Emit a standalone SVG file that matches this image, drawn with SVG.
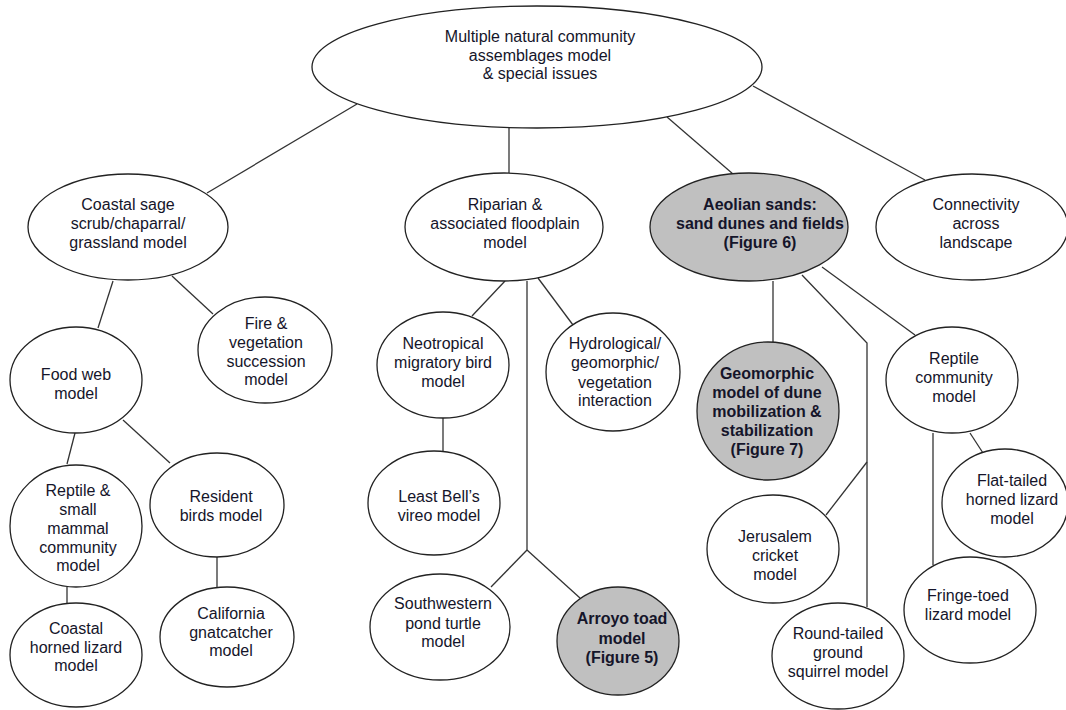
<svg xmlns="http://www.w3.org/2000/svg" width="1066" height="710" viewBox="0 0 1066 710">
<style>
.n{fill:#fff;stroke:#222;stroke-width:1.3}
.g{fill:#c0c0c0;stroke:#222;stroke-width:1.3}
.t{font-family:"Liberation Sans",Arial,sans-serif;font-size:16px;fill:#15152a;text-anchor:middle}
.b{font-weight:bold}
.c line,.c polyline{stroke:#333;stroke-width:1.3;fill:none}
</style>
<rect width="1066" height="710" fill="#fff"/>
<g class="c" id="connectors">
<line x1="357" y1="104" x2="207" y2="193"/>
<line x1="509" y1="128" x2="509" y2="174"/>
<line x1="667" y1="117" x2="733" y2="174"/>
<line x1="753" y1="86" x2="925" y2="180"/>
<line x1="113" y1="281" x2="98" y2="328"/>
<line x1="172" y1="276" x2="213" y2="314"/>
<line x1="75" y1="433" x2="67" y2="464"/>
<line x1="123" y1="420" x2="170" y2="463"/>
<line x1="67" y1="587" x2="67" y2="603"/>
<line x1="217" y1="557" x2="217" y2="587"/>
<line x1="505" y1="281" x2="472" y2="316"/>
<line x1="538" y1="278" x2="573" y2="325"/>
<line x1="443" y1="418" x2="443" y2="451"/>
<polyline points="527,281 527,550"/>
<line x1="527" y1="550" x2="491" y2="587"/>
<line x1="527" y1="550" x2="580" y2="598"/>
<line x1="773" y1="281" x2="773" y2="342"/>
<polyline points="802,275 867,343 867,607"/>
<line x1="867" y1="462" x2="826" y2="515"/>
<line x1="822" y1="267" x2="915" y2="335"/>
<line x1="933" y1="433" x2="933" y2="565"/>
<line x1="970" y1="433" x2="983" y2="453"/>
</g>
<g id="root"><ellipse class="n" cx="537" cy="67" rx="225" ry="61"/><text class="t"><tspan x="540" y="42">Multiple natural community</tspan><tspan x="540" y="61">assemblages model</tspan><tspan x="540" y="79">&amp; special issues</tspan></text></g>
<g id="coastal"><ellipse class="n" cx="128" cy="227" rx="100" ry="53"/><text class="t"><tspan x="128" y="210">Coastal sage</tspan><tspan x="128" y="229">scrub/chaparral/</tspan><tspan x="128" y="248">grassland model</tspan></text></g>
<g id="fire"><ellipse class="n" cx="265" cy="350" rx="67" ry="53"/><text class="t"><tspan x="266" y="329">Fire &amp;</tspan><tspan x="266" y="348">vegetation</tspan><tspan x="266" y="367">succession</tspan><tspan x="266" y="385">model</tspan></text></g>
<g id="foodweb"><ellipse class="n" cx="76" cy="380" rx="66" ry="53"/><text class="t"><tspan x="76" y="380">Food web</tspan><tspan x="76" y="399">model</tspan></text></g>
<g id="reptilesmall"><ellipse class="n" cx="76" cy="526" rx="66" ry="61"/><text class="t"><tspan x="78" y="496">Reptile &amp;</tspan><tspan x="78" y="515">small</tspan><tspan x="78" y="534">mammal</tspan><tspan x="78" y="553">community</tspan><tspan x="78" y="571">model</tspan></text></g>
<g id="resident"><ellipse class="n" cx="217" cy="505" rx="67" ry="52"/><text class="t"><tspan x="221" y="502">Resident</tspan><tspan x="221" y="521">birds model</tspan></text></g>
<g id="california"><ellipse class="n" cx="227" cy="637" rx="67" ry="50"/><text class="t"><tspan x="231" y="619">California</tspan><tspan x="231" y="638">gnatcatcher</tspan><tspan x="231" y="656">model</tspan></text></g>
<g id="coastalhorned"><ellipse class="n" cx="76" cy="655" rx="66" ry="52"/><text class="t"><tspan x="76" y="634">Coastal</tspan><tspan x="76" y="653">horned lizard</tspan><tspan x="76" y="671">model</tspan></text></g>
<g id="riparian"><ellipse class="n" cx="504" cy="227" rx="99" ry="54"/><text class="t"><tspan x="505" y="210">Riparian &amp;</tspan><tspan x="505" y="229">associated floodplain</tspan><tspan x="505" y="248">model</tspan></text></g>
<g id="neotropical"><ellipse class="n" cx="443" cy="365" rx="66" ry="53"/><text class="t"><tspan x="443" y="349">Neotropical</tspan><tspan x="443" y="368">migratory bird</tspan><tspan x="443" y="387">model</tspan></text></g>
<g id="hydro"><ellipse class="n" cx="613" cy="372" rx="67" ry="59"/><text class="t"><tspan x="615" y="349">Hydrological/</tspan><tspan x="615" y="368">geomorphic/</tspan><tspan x="615" y="388">vegetation</tspan><tspan x="615" y="406">interaction</tspan></text></g>
<g id="leastbell"><ellipse class="n" cx="434" cy="503" rx="66" ry="52"/><text class="t"><tspan x="439" y="502">Least Bell’s</tspan><tspan x="439" y="521">vireo model</tspan></text></g>
<g id="southwestern"><ellipse class="n" cx="440" cy="627" rx="70" ry="53"/><text class="t"><tspan x="443" y="609">Southwestern</tspan><tspan x="443" y="629">pond turtle</tspan><tspan x="443" y="647">model</tspan></text></g>
<g id="arroyo"><ellipse class="g" cx="618" cy="641" rx="61" ry="54"/><text class="t b"><tspan x="622" y="624">Arroyo toad</tspan><tspan x="622" y="644">model</tspan><tspan x="622" y="663">(Figure 5)</tspan></text></g>
<g id="aeolian"><ellipse class="g" cx="749" cy="227" rx="99" ry="54"/><text class="t b"><tspan x="760" y="210">Aeolian sands:</tspan><tspan x="760" y="229">sand dunes and fields</tspan><tspan x="760" y="248">(Figure 6)</tspan></text></g>
<g id="connectivity"><ellipse class="n" cx="972" cy="227" rx="96" ry="53"/><text class="t"><tspan x="976" y="210">Connectivity</tspan><tspan x="976" y="229">across</tspan><tspan x="976" y="248">landscape</tspan></text></g>
<g id="geomorphic"><ellipse class="g" cx="768" cy="411" rx="71" ry="69"/><text class="t b"><tspan x="767" y="379">Geomorphic</tspan><tspan x="767" y="398">model of dune</tspan><tspan x="767" y="417">mobilization &amp;</tspan><tspan x="767" y="436">stabilization</tspan><tspan x="767" y="455">(Figure 7)</tspan></text></g>
<g id="reptilecommunity"><ellipse class="n" cx="952" cy="380" rx="66" ry="53"/><text class="t"><tspan x="954" y="364">Reptile</tspan><tspan x="954" y="383">community</tspan><tspan x="954" y="402">model</tspan></text></g>
<g id="flattailed"><ellipse class="n" cx="1005" cy="503" rx="63" ry="54"/><text class="t"><tspan x="1012" y="486">Flat-tailed</tspan><tspan x="1012" y="505">horned lizard</tspan><tspan x="1012" y="524">model</tspan></text></g>
<g id="fringetoed"><ellipse class="n" cx="970" cy="610" rx="66" ry="53"/><text class="t"><tspan x="968" y="601">Fringe-toed</tspan><tspan x="968" y="620">lizard model</tspan></text></g>
<g id="jerusalem"><ellipse class="n" cx="773" cy="549" rx="66" ry="54"/><text class="t"><tspan x="775" y="542">Jerusalem</tspan><tspan x="775" y="561">cricket</tspan><tspan x="775" y="580">model</tspan></text></g>
<g id="roundtailed"><ellipse class="n" cx="838" cy="656" rx="66" ry="53"/><text class="t"><tspan x="838" y="639">Round-tailed</tspan><tspan x="838" y="658">ground</tspan><tspan x="838" y="677">squirrel model</tspan></text></g>
</svg>
